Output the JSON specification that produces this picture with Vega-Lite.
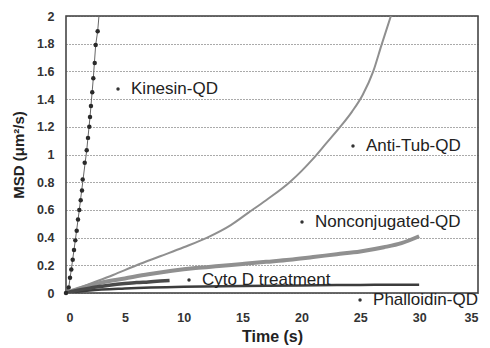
{
  "$schema": "https://vega.github.io/schema/vega-lite/v6.json",
  "width": 412,
  "height": 277,
  "autosize": {"type": "none"},
  "padding": {"left": 66, "top": 16, "right": 12, "bottom": 55},
  "background": "white",
  "config": {
    "font": "Liberation Sans",
    "view": {"stroke": "#3a3a3a", "strokeWidth": 1.5}
  },
  "datasets": {
    "curves": [
      {"series": "Nonconjugated-QD", "t": 0, "msd": 0},
      {"series": "Nonconjugated-QD", "t": 1, "msd": 0.03},
      {"series": "Nonconjugated-QD", "t": 2, "msd": 0.055},
      {"series": "Nonconjugated-QD", "t": 3, "msd": 0.075},
      {"series": "Nonconjugated-QD", "t": 5, "msd": 0.105},
      {"series": "Nonconjugated-QD", "t": 7, "msd": 0.135},
      {"series": "Nonconjugated-QD", "t": 9, "msd": 0.16},
      {"series": "Nonconjugated-QD", "t": 11, "msd": 0.18},
      {"series": "Nonconjugated-QD", "t": 13, "msd": 0.195},
      {"series": "Nonconjugated-QD", "t": 15, "msd": 0.21},
      {"series": "Nonconjugated-QD", "t": 17, "msd": 0.225},
      {"series": "Nonconjugated-QD", "t": 19, "msd": 0.24},
      {"series": "Nonconjugated-QD", "t": 21, "msd": 0.26},
      {"series": "Nonconjugated-QD", "t": 23, "msd": 0.28},
      {"series": "Nonconjugated-QD", "t": 25, "msd": 0.3},
      {"series": "Nonconjugated-QD", "t": 27, "msd": 0.33},
      {"series": "Nonconjugated-QD", "t": 28.5, "msd": 0.36},
      {"series": "Nonconjugated-QD", "t": 30, "msd": 0.41},
      {"series": "Anti-Tub-QD", "t": 0, "msd": 0},
      {"series": "Anti-Tub-QD", "t": 2, "msd": 0.065},
      {"series": "Anti-Tub-QD", "t": 4, "msd": 0.13},
      {"series": "Anti-Tub-QD", "t": 6, "msd": 0.2},
      {"series": "Anti-Tub-QD", "t": 8, "msd": 0.265},
      {"series": "Anti-Tub-QD", "t": 10, "msd": 0.33},
      {"series": "Anti-Tub-QD", "t": 12, "msd": 0.4},
      {"series": "Anti-Tub-QD", "t": 14, "msd": 0.49},
      {"series": "Anti-Tub-QD", "t": 15.5, "msd": 0.58},
      {"series": "Anti-Tub-QD", "t": 17, "msd": 0.67},
      {"series": "Anti-Tub-QD", "t": 19, "msd": 0.8},
      {"series": "Anti-Tub-QD", "t": 20, "msd": 0.88},
      {"series": "Anti-Tub-QD", "t": 21, "msd": 0.97},
      {"series": "Anti-Tub-QD", "t": 22.1, "msd": 1.08},
      {"series": "Anti-Tub-QD", "t": 23.2, "msd": 1.19},
      {"series": "Anti-Tub-QD", "t": 24.3, "msd": 1.31},
      {"series": "Anti-Tub-QD", "t": 25.2, "msd": 1.43},
      {"series": "Anti-Tub-QD", "t": 26.1, "msd": 1.6},
      {"series": "Anti-Tub-QD", "t": 26.8, "msd": 1.79},
      {"series": "Anti-Tub-QD", "t": 27.6, "msd": 2.0},
      {"series": "Cyto D treatment", "t": 0, "msd": 0},
      {"series": "Cyto D treatment", "t": 1, "msd": 0.02},
      {"series": "Cyto D treatment", "t": 2, "msd": 0.035},
      {"series": "Cyto D treatment", "t": 3, "msd": 0.048},
      {"series": "Cyto D treatment", "t": 4, "msd": 0.06},
      {"series": "Cyto D treatment", "t": 5, "msd": 0.068},
      {"series": "Cyto D treatment", "t": 6, "msd": 0.075},
      {"series": "Cyto D treatment", "t": 7, "msd": 0.08},
      {"series": "Cyto D treatment", "t": 8, "msd": 0.086},
      {"series": "Cyto D treatment", "t": 8.8, "msd": 0.09},
      {"series": "Phalloidin-QD", "t": 0, "msd": 0},
      {"series": "Phalloidin-QD", "t": 2, "msd": 0.018},
      {"series": "Phalloidin-QD", "t": 5, "msd": 0.032},
      {"series": "Phalloidin-QD", "t": 10, "msd": 0.045},
      {"series": "Phalloidin-QD", "t": 15, "msd": 0.05},
      {"series": "Phalloidin-QD", "t": 20, "msd": 0.055},
      {"series": "Phalloidin-QD", "t": 25, "msd": 0.058},
      {"series": "Phalloidin-QD", "t": 28, "msd": 0.06},
      {"series": "Phalloidin-QD", "t": 30, "msd": 0.06}
    ],
    "kinesin": [
      {"t": 0, "msd": 0},
      {"t": 0.23, "msd": 0.04},
      {"t": 0.34, "msd": 0.11},
      {"t": 0.45, "msd": 0.17},
      {"t": 0.57, "msd": 0.24},
      {"t": 0.68, "msd": 0.31},
      {"t": 0.79, "msd": 0.38},
      {"t": 0.91, "msd": 0.45},
      {"t": 1.02, "msd": 0.53},
      {"t": 1.13, "msd": 0.6},
      {"t": 1.25, "msd": 0.67},
      {"t": 1.36, "msd": 0.74},
      {"t": 1.42, "msd": 0.82},
      {"t": 1.59, "msd": 0.94},
      {"t": 1.76, "msd": 1.03},
      {"t": 1.87, "msd": 1.12},
      {"t": 1.98, "msd": 1.2},
      {"t": 2.04, "msd": 1.27},
      {"t": 2.12, "msd": 1.35},
      {"t": 2.23, "msd": 1.45},
      {"t": 2.32, "msd": 1.55},
      {"t": 2.44, "msd": 1.66},
      {"t": 2.52, "msd": 1.79},
      {"t": 2.69, "msd": 1.89}
    ],
    "kinesinLine": [
      {"t": 0, "msd": 0},
      {"t": 0.23, "msd": 0.04},
      {"t": 0.45, "msd": 0.17},
      {"t": 0.79, "msd": 0.38},
      {"t": 1.13, "msd": 0.6},
      {"t": 1.42, "msd": 0.8},
      {"t": 1.76, "msd": 1.03},
      {"t": 2.04, "msd": 1.27},
      {"t": 2.32, "msd": 1.55},
      {"t": 2.52, "msd": 1.79},
      {"t": 2.69, "msd": 1.89},
      {"t": 2.8, "msd": 2.0}
    ],
    "labels": [
      {"label": "Kinesin-QD", "t": 4.42, "msd": 1.473},
      {"label": "Anti-Tub-QD", "t": 24.38, "msd": 1.061},
      {"label": "Nonconjugated-QD", "t": 20.05, "msd": 0.513},
      {"label": "Cyto D treatment", "t": 10.45, "msd": 0.094},
      {"label": "Phalloidin-QD", "t": 24.98, "msd": -0.051}
    ]
  },
  "encoding": {
    "x": {
      "field": "t", "type": "quantitative",
      "scale": {"domain": [0, 35], "nice": false, "zero": false},
      "axis": {
        "title": "Time (s)", "values": [0, 5, 10, 15, 20, 25, 30, 35],
        "grid": false, "ticks": false, "domain": false,
        "labelFont": "Liberation Sans", "labelFontSize": 12.5, "labelFontWeight": "bold", "labelColor": "#333",
        "labelPadding": 18,
        "titleFont": "Liberation Sans", "titleFontSize": 16, "titleFontWeight": "bold", "titleColor": "#222",
        "titlePadding": 5
      }
    },
    "y": {
      "field": "msd", "type": "quantitative",
      "scale": {"domain": [0, 2], "nice": false, "zero": false},
      "axis": {
        "title": "MSD (μm²/s)", "values": [0, 0.2, 0.4, 0.6, 0.8, 1, 1.2, 1.4, 1.6, 1.8, 2],
        "format": "~g",
        "grid": true, "gridDash": [1, 2], "gridColor": "#555", "gridWidth": 1,
        "ticks": false, "domain": false,
        "labelFont": "Liberation Sans", "labelFontSize": 12.5, "labelFontWeight": "bold", "labelColor": "#333",
        "labelPadding": 12,
        "titleFont": "Liberation Sans", "titleFontSize": 15, "titleFontWeight": "bold", "titleColor": "#222",
        "titlePadding": 10
      }
    }
  },
  "layer": [
    {
      "data": {"name": "curves"},
      "transform": [{"filter": "datum.series === 'Nonconjugated-QD'"}],
      "mark": {"type": "line", "color": "#909090", "strokeWidth": 4, "interpolate": "monotone", "clip": true}
    },
    {
      "data": {"name": "curves"},
      "transform": [{"filter": "datum.series === 'Anti-Tub-QD'"}],
      "mark": {"type": "line", "color": "#8f8f8f", "strokeWidth": 2, "interpolate": "monotone", "clip": true}
    },
    {
      "data": {"name": "curves"},
      "transform": [{"filter": "datum.series === 'Phalloidin-QD'"}],
      "mark": {"type": "line", "color": "#3c3c3c", "strokeWidth": 2.5, "interpolate": "monotone", "clip": true}
    },
    {
      "data": {"name": "curves"},
      "transform": [{"filter": "datum.series === 'Cyto D treatment'"}],
      "mark": {"type": "line", "color": "#4a4a4a", "strokeWidth": 3.5, "interpolate": "monotone", "clip": true}
    },
    {
      "data": {"name": "kinesinLine"},
      "mark": {"type": "line", "color": "#666", "strokeWidth": 1, "clip": true}
    },
    {
      "data": {"name": "kinesin"},
      "mark": {"type": "point", "shape": "circle", "filled": true, "color": "#2a2a2a", "size": 20, "opacity": 1}
    },
    {
      "data": {"name": "labels"},
      "mark": {"type": "point", "shape": "circle", "filled": true, "color": "#333", "size": 12, "opacity": 1}
    },
    {
      "data": {"name": "labels"},
      "mark": {"type": "text", "align": "left", "baseline": "middle", "dx": 13, "font": "Liberation Sans", "fontSize": 17, "color": "#222"},
      "encoding": {"text": {"field": "label"}}
    }
  ]
}
